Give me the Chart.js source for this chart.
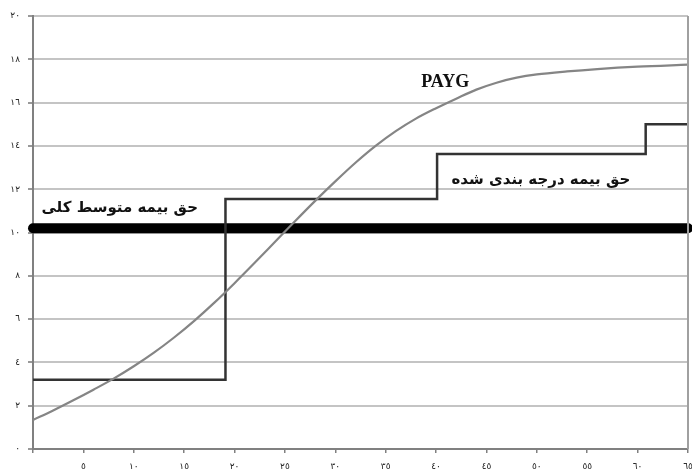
<!DOCTYPE html>
<html>
<head>
<meta charset="utf-8">
<script src="https://cdn.jsdelivr.net/npm/chart.js@4/dist/chart.umd.min.js"></script>
<style>
html,body{margin:0;padding:0;background:#fff;}
#wrap{width:692px;height:471px;position:relative;}
</style>
</head>
<body>
<div id="wrap"><canvas id="c" width="692" height="471"></canvas></div>
<script>
// Data
const xTicks = [0,5,10,15,20,25,30,35,40,45,50,55,60,65];
const yTicks = [0,2,4,6,8,10,12,14,16,18,20];
const paygX = [0, 2, 4, 6, 8, 10, 12, 14, 16, 18, 20, 22, 24, 26, 28, 30, 32, 34, 36, 38, 40, 42, 44, 46, 48, 50, 53, 56, 60, 65];
const paygY = [1.34, 1.78, 2.25, 2.74, 3.25, 3.82, 4.45, 5.15, 5.92, 6.76, 7.66, 8.6, 9.56, 10.52, 11.46, 12.36, 13.22, 14.0, 14.68, 15.26, 15.74, 16.18, 16.6, 16.92, 17.15, 17.3, 17.44, 17.55, 17.66, 17.75];
const stepX = [0, 19.1, 40.1, 60.8, 65];
const stepY = [3.2, 11.55, 13.63, 15.0, 15.0];
const avgX = [0, 65];
const avgY = [10.2, 10.2];
const labels = [
  {text:'PAYG', x:40.9, y:16.95, font:'bold 18px "Liberation Serif"'},
  {text:'حق بیمه درجه بندی شده', x:50.4, y:12.4, font:'bold 15px "DejaVu Sans"'},
  {text:'حق بیمه متوسط کلی', x:8.6, y:11.13, font:'bold 15px "DejaVu Sans"'}
];

const ar = v => String(v).replace(/\d/g, d => '٠١٢٣٤٥٦٧٨٩'[d]);
const pts = (xs, ys) => xs.map((x,i) => ({x:x, y:ys[i]}));

const textPlugin = {
  id:'texts',
  afterDatasetsDraw(chart){
    const ctx = chart.ctx, xs = chart.scales.x, ys = chart.scales.y, a = chart.chartArea;
    ctx.save();
    // right border of plot frame
    ctx.strokeStyle = '#a0a0a0';
    ctx.lineWidth = 2;
    ctx.beginPath();
    ctx.moveTo(a.right, a.top);
    ctx.lineTo(a.right, a.bottom);
    ctx.stroke();
    ctx.fillStyle = '#111';
    ctx.textAlign = 'center';
    ctx.textBaseline = 'middle';
    labels.forEach(l => {
      ctx.font = l.font;
      ctx.fillText(l.text, xs.getPixelForValue(l.x), ys.getPixelForValue(l.y));
    });
    ctx.restore();
  }
};

new Chart(document.getElementById('c'), {
  type:'line',
  data:{
    datasets:[
      {data:pts(paygX,paygY), borderColor:'#858585', borderWidth:2.2, pointRadius:0, cubicInterpolationMode:'monotone', fill:false},
      {data:pts(stepX,stepY), borderColor:'#333', borderWidth:2.5, pointRadius:0, stepped:'before', fill:false},
      {data:pts(avgX,avgY), borderColor:'#000', borderWidth:10, pointRadius:0, fill:false, clip:false, borderCapStyle:'round'}
    ]
  },
  options:{
    responsive:false,
    animation:false,
    layout:{padding:{top:16, left:0, right:4, bottom:0}},
    plugins:{legend:{display:false}, tooltip:{enabled:false}},
    scales:{
      x:{
        type:'linear', min:0, max:65,
        afterBuildTicks(s){ s.ticks = xTicks.map(v => ({value:v})); },
        afterFit(s){ s.height = 22; s.paddingLeft = 0; s.paddingRight = 0; },
        ticks:{callback:v => v === 0 ? '' : ar(v), color:'#222', font:{family:'DejaVu Sans', size:9}, padding:8, maxRotation:0, autoSkip:false},
        grid:{drawOnChartArea:false, drawTicks:true, tickLength:4, color:'#808080', lineWidth:1.5},
        border:{color:'#808080', width:2}
      },
      y:{
        type:'linear', min:0, max:20,
        afterBuildTicks(s){ s.ticks = yTicks.map(v => ({value:v})); },
        afterFit(s){ s.width = 33; s.paddingTop = 0; s.paddingBottom = 0; },
        ticks:{callback:v => ar(v), color:'#222', font:{family:'DejaVu Sans', size:9}, padding:8},
        grid:{color:'#c4c4c4', lineWidth:2, tickLength:5, tickColor:'#999'},
        border:{color:'#808080', width:2}
      }
    }
  },
  plugins:[textPlugin]
});
</script>
</body>
</html>
